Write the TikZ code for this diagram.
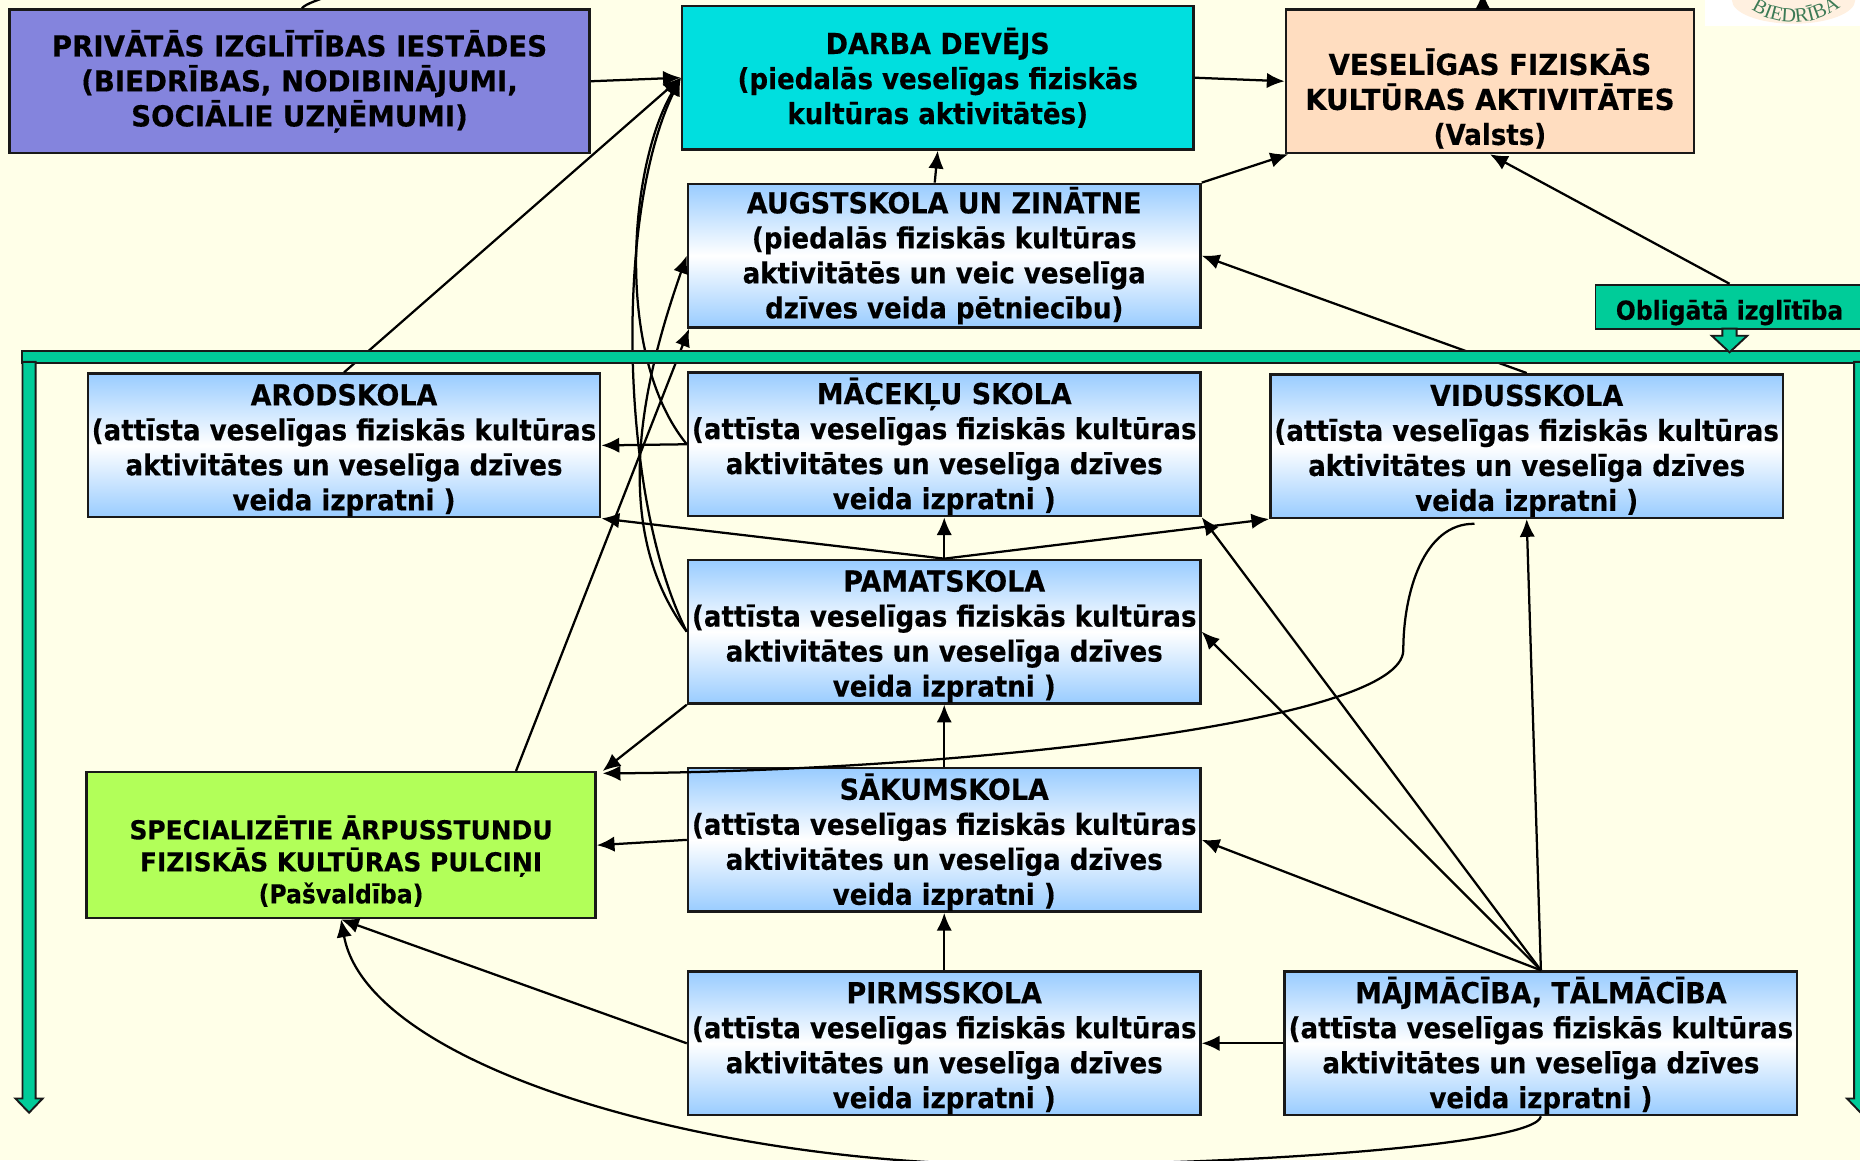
\documentclass[tikz,border=0pt]{standalone}
\usepackage{fontspec}
\setmainfont{DejaVu Sans}[FakeStretch=0.9,BoldFeatures={FakeBold=0.3}]
\newfontfamily\capsfont{DejaVu Sans}[FakeStretch=0.93,BoldFeatures={FakeBold=0.3}]
\newfontfamily\widefont{DejaVu Sans}[FakeStretch=0.955,BoldFeatures={FakeBold=0.3}]
\newfontfamily\logofont{Liberation Serif}
\usepackage{tikz}
\usetikzlibrary{arrows.meta,decorations.text}
\definecolor{paper}{HTML}{FFFFE8}
\definecolor{purplebox}{HTML}{8484DD}
\definecolor{cyanbox}{HTML}{00DFDF}
\definecolor{peachbox}{HTML}{FFDDC0}
\definecolor{limebox}{HTML}{B2FF59}
\definecolor{barcol}{HTML}{00CC99}
\definecolor{skybox}{HTML}{99CCFF}
\definecolor{logogreen}{HTML}{3C7A55}
\tikzset{
  plainbox/.style={draw=black!90,line width=2.1pt,minimum width=#1,minimum height=121pt,
    inner sep=0pt,align=center,font=\fontsize{24.4}{29.5}\selectfont\bfseries},
  schoolbox/.style={plainbox=432pt,top color=skybox,bottom color=skybox,middle color=white},
  barbox/.style={draw=black!90,line width=1.6pt,fill=barcol,inner sep=0pt},
  link/.style={-{Latex[length=15pt,width=13pt]},line width=1.9pt},
}
\newcommand{\headline}[1]{\rule{0pt}{26pt}{\capsfont #1}}
\begin{document}
\begin{tikzpicture}[x=1pt,y=-1pt]
  \clip (0,0) rectangle (1568,978);
  \fill[paper] (0,0) rectangle (1568,978);
  % logo corner
  \fill[white] (1437,0) rectangle (1568,22);
  \fill[orange!12] (1512,0) ellipse (52pt and 20pt);
  \path[decorate,decoration={text along path,text align=center,
    text={|\logofont\fontsize{17}{17}\selectfont\color{logogreen}|BIEDRĪBA}}]
    (1468,2) .. controls (1495,25) and (1530,25) .. (1560,0);

  \node (private) [plainbox=489pt,fill=purplebox] at (252.5,68.5) {\widefont PRIVĀTĀS IZGLĪTĪBAS IESTĀDES\\\widefont (BIEDRĪBAS, NODIBINĀJUMI,\\\widefont SOCIĀLIE UZŅĒMUMI)};
  \node (darba) [plainbox=431pt,fill=cyanbox] at (790.5,65.5) {{\capsfont DARBA DEVĒJS}\\(piedalās veselīgas fiziskās\\kultūras aktivitātēs)};
  \node (vesel) [plainbox=344pt,fill=peachbox] at (1256,68.5) {\rule{0pt}{22pt}\\{\widefont VESELĪGAS FIZISKĀS}\\{\widefont KULTŪRAS AKTIVITĀTES}\\(Valsts)};
  \node (augst) [schoolbox] at (796,215.5) {{\capsfont AUGSTSKOLA UN ZINĀTNE}\\(piedalās fiziskās kultūras\\aktivitātēs un veic veselīga\\dzīves veida pētniecību)};
  \node (arod) [schoolbox] at (290,375.5) {\headline{ARODSKOLA}\\(attīsta veselīgas fiziskās kultūras\\aktivitātes un veselīga dzīves\\veida izpratni )};
  \node (macek) [schoolbox] at (796,374.5) {\headline{MĀCEKĻU SKOLA}\\(attīsta veselīgas fiziskās kultūras\\aktivitātes un veselīga dzīves\\veida izpratni )};
  \node (vidus) [schoolbox] at (1287,376) {\headline{VIDUSSKOLA}\\(attīsta veselīgas fiziskās kultūras\\aktivitātes un veselīga dzīves\\veida izpratni )};
  \node (pamat) [schoolbox] at (796,532.5) {\headline{PAMATSKOLA}\\(attīsta veselīgas fiziskās kultūras\\aktivitātes un veselīga dzīves\\veida izpratni )};
  \node (sakum) [schoolbox] at (796,708) {\headline{SĀKUMSKOLA}\\(attīsta veselīgas fiziskās kultūras\\aktivitātes un veselīga dzīves\\veida izpratni )};
  \node (pirms) [schoolbox] at (796,879.5) {\headline{PIRMSSKOLA}\\(attīsta veselīgas fiziskās kultūras\\aktivitātes un veselīga dzīves\\veida izpratni )};
  \node (maj) [schoolbox] at (1299,879.5) {\headline{MĀJMĀCĪBA, TĀLMĀCĪBA}\\(attīsta veselīgas fiziskās kultūras\\aktivitātes un veselīga dzīves\\veida izpratni )};
  \node (special) [plainbox=429pt,minimum height=123pt,fill=limebox,font=\fontsize{22}{27}\selectfont\bfseries] at (287.5,712.5) {\rule{0pt}{20pt}\\{\widefont SPECIALIZĒTIE ĀRPUSSTUNDU}\\{\widefont FIZISKĀS KULTŪRAS PULCIŅI}\\(Pašvaldība)};

  % connectors
  \draw[link] (private.east) -- (darba.west);
  \draw[link] (darba.east) -- (vesel.west);
  \draw[link] ([xshift=-8pt]augst.north) -- (darba.south);
  \draw[link] (augst.north east) -- ([xshift=3pt]vesel.south west);
  \draw[link] (vidus.north) -- (augst.east);
  \draw[link] (arod.north) -- (darba.west);
  \draw[link] (macek.west) .. controls (518,300) and (530,140) .. (darba.west);
  \draw[link] (pamat.west) .. controls (522,420) and (518,180) .. (darba.west);
  \draw[link] (pamat.west) .. controls (510,440) and (546,310) .. (augst.west);
  \draw[link] (macek.west) -- (arod.east);
  \draw[link] (pamat.north) -- (arod.south east);
  \draw[link] (pamat.north) -- (macek.south);
  \draw[link] (pamat.north) -- (vidus.south west);
  \draw[link] (pamat.south west) -- ([xshift=5pt]special.north east);
  \draw[link] (sakum.north) -- (pamat.south);
  \draw[link] (sakum.west) -- (special.east);
  \draw[link] (pirms.north) -- (sakum.south);
  \draw[link] (pirms.west) -- (special.south);
  \draw[link] (maj.west) -- (pirms.east);
  \draw[link] (maj.north) -- (sakum.east);
  \draw[link] (maj.north) -- (pamat.east);
  \draw[link] (maj.north) -- (macek.south east);
  \draw[link] (maj.north) -- (vidus.south);
  \draw[link] ([xshift=147.5pt]special.north) -- ([xshift=2pt]augst.south west);
  \draw[link] ([xshift=-44pt,yshift=-4pt]vidus.south) .. controls (1200,441) and (1183,500) .. (1183,548)
    .. controls (1183,610) and (800,650) .. ([xshift=5pt,yshift=-2pt]special.north east);
  \draw[link] (maj.south) .. controls (1295,965) and (1050,982) .. (860,982)
    .. controls (600,982) and (310,900) .. (special.south);
  \coordinate (offleft) at (285,-6);
  \coordinate (offright) at (1250,-7);
  \draw[line width=1.9pt] ([xshift=2pt]private.north) .. controls (258,3) and (268,0) .. (offleft);
  \draw[link] ([xshift=-6pt]vesel.north) -- (offright);

  % obligatory band
  \node (oblig) [barbox,minimum width=226pt,minimum height=37pt,font=\fontsize{22}{25}\selectfont\bfseries] at (1458,258.5) {\smash{\raisebox{-11pt}{Obligātā izglītība}}};
  \draw[link] (oblig.north) -- (vesel.south);
  \node (band) [barbox,minimum width=1560pt,minimum height=10pt,anchor=north west] at (18,295) {};
  \draw[barbox] (1452,277) -- (1464,277) -- (1464,283) -- (1473,283) -- (1458,297) -- (1443,283) -- (1452,283) -- cycle;
  \draw[barbox] (19,305) -- (30,305) -- (30,926) -- (36,926) -- (24.5,938) -- (13,926) -- (19,926) -- cycle;
  \draw[barbox] (1563,305) -- (1574,305) -- (1574,926) -- (1580,926) -- (1568.5,938) -- (1557,926) -- (1563,926) -- cycle;
\end{tikzpicture}
\end{document}
